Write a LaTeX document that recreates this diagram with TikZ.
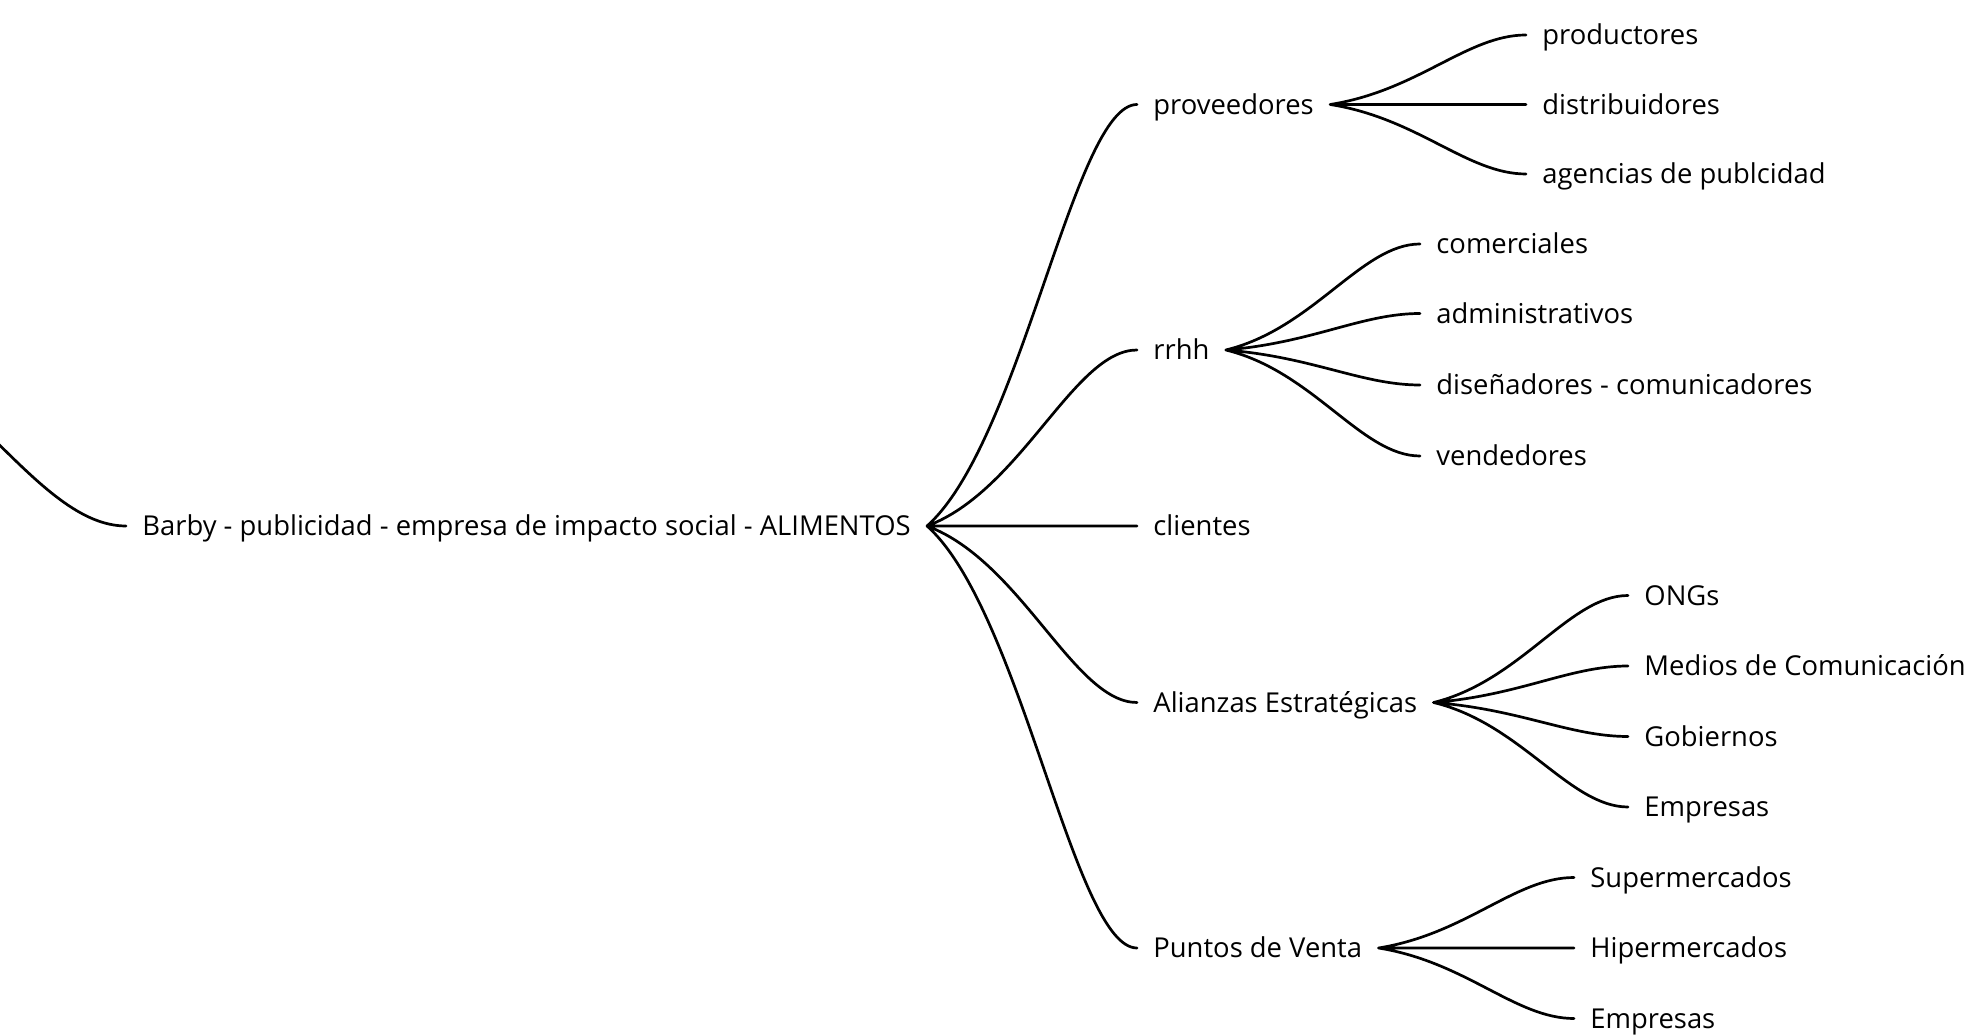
\documentclass[tikz,border=0pt]{standalone}
\usepackage{fontspec}
\setmainfont{Open Sans}
\usetikzlibrary{calc}

\tikzset{
    item/.style={anchor=west, inner xsep=8pt, inner ysep=0pt, text height=11pt, text depth=1.3pt, font=\fontsize{13.7}{16}\selectfont},
    branch/.style={to path={let \p1=(\tikztostart), \p2=(\tikztotarget) in
        .. controls ({\x1+0.45*(\x2-\x1)},{\y1+0.2*(\y2-\y1)}) and ({\x2-0.3*(\x2-\x1)},\y2) .. (\tikztotarget)}},
    link/.style={line width=1.35pt, line cap=round}
}

\begin{document}
\begin{tikzpicture}[x=0.5pt, y=-0.5pt]
    \useasboundingbox (0,0) rectangle (1974,1036);
    \node[item] (a) at (126,526) {Barby - publicidad - empresa de impacto social - ALIMENTOS};
    \coordinate (p) at (-174,320);

    \node[item] (b) at (1137,104.5) {proveedores};
    \node[item] (c) at (1137,350) {rrhh};
    \node[item] (d) at (1137,526) {clientes};
    \node[item] (e) at (1137,702.5) {Alianzas Estratégicas};
    \node[item] (f) at (1137,948) {Puntos de Venta};

    \node[item] (b1) at (1526,35) {productores};
    \node[item] (b2) at (1526,104.5) {distribuidores};
    \node[item] (b3) at (1526,174) {agencias de publcidad};

    \node[item] (c1) at (1420,244) {comerciales};
    \node[item] (c2) at (1420,313.5) {administrativos};
    \node[item] (c3) at (1420,385) {diseñadores - comunicadores};
    \node[item] (c4) at (1420,456) {vendedores};

    \node[item] (e1) at (1628,595.5) {ONGs};
    \node[item] (e2) at (1628,666) {Medios de Comunicación};
    \node[item] (e3) at (1628,736.5) {Gobiernos};
    \node[item] (e4) at (1628,807) {Empresas};

    \node[item] (f1) at (1574,877.5) {Supermercados};
    \node[item] (f2) at (1574,948) {Hipermercados};
    \node[item] (f3) at (1574,1018.5) {Empresas};

    \draw[link] (p) to[branch] (a.west);
    \draw[link] (a.east) to[branch] (b.west)
        (a.east) to[branch] (c.west)
        (a.east) -- (d.west)
        (a.east) to[branch] (e.west)
        (a.east) to[branch] (f.west);
    \draw[link] (b.east) to[branch] (b1.west)
        (b.east) -- (b2.west)
        (b.east) to[branch] (b3.west);
    \draw[link] (c.east) to[branch] (c1.west)
        (c.east) to[branch] (c2.west)
        (c.east) to[branch] (c3.west)
        (c.east) to[branch] (c4.west);
    \draw[link] (e.east) to[branch] (e1.west)
        (e.east) to[branch] (e2.west)
        (e.east) to[branch] (e3.west)
        (e.east) to[branch] (e4.west);
    \draw[link] (f.east) to[branch] (f1.west)
        (f.east) -- (f2.west)
        (f.east) to[branch] (f3.west);
\end{tikzpicture}
\end{document}
